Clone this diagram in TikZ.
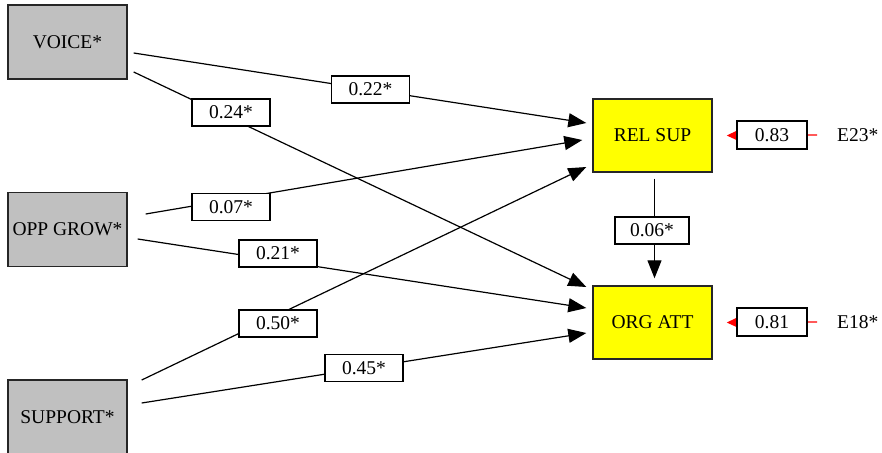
\documentclass[tikz,border=0pt]{standalone}
\usepackage{fontspec}
\setmainfont{Liberation Serif}
\usetikzlibrary{arrows.meta}
\definecolor{boxgray}{HTML}{C0C0C0}
\definecolor{boxyellow}{HTML}{FFFF00}
\begin{document}
\begin{tikzpicture}[x=1pt,y=-1pt,
  every node/.style={font=\fontsize{19.5}{22}\selectfont, inner sep=0pt},
  exo/.style={draw=black!85, line width=1.4pt, fill=boxgray, minimum width=119pt, minimum height=74pt},
  endo/.style={draw=black!85, line width=1.4pt, fill=boxyellow, minimum width=119pt, minimum height=73pt},
  coef/.style={draw=black, line width=1.1pt, fill=white, minimum width=78pt, minimum height=27pt},
  errcoef/.style={coef, minimum width=70pt, minimum height=28pt},
  path/.style={line width=1.2pt, -{Triangle[length=18pt,width=14pt]}},
  errpath/.style={red, line width=1.2pt, -{Triangle[length=10pt,width=9pt]}},
  errlabel/.style={anchor=west}
]
\useasboundingbox (0,0) rectangle (882,452);

% observed variables
\node[exo]  (voice)   at (67.5,42)    {VOICE*};
\node[exo]  (opp)     at (67.5,229.5) {OPP GROW*};
\node[exo]  (support) at (67.5,417)   {SUPPORT*};
\node[endo] (relsup)  at (652.5,135.5){REL SUP};
\node[endo] (orgatt)  at (652.5,322.5){ORG ATT};

% error terms
\node[errlabel] (e23) at (837,135) {E23*};
\node[errlabel] (e18) at (837,322) {E18*};
\coordinate (e23s) at ([xshift=-20pt]e23.west);
\coordinate (e18s) at ([xshift=-20pt]e18.west);

% structural paths
\draw[path] ([shift={(6,11)}]voice.east)   -- ([shift={(-6,-12.5)}]relsup.west);
\draw[path] ([shift={(6,30)}]voice.east)   -- ([shift={(-6,-35.5)}]orgatt.west);
\draw[path] ([shift={(18,-15.5)}]opp.east) -- ([shift={(-10,4.5)}]relsup.west);
\draw[path] ([shift={(10,9.5)}]opp.east)   -- ([shift={(-6,-14.5)}]orgatt.west);
\draw[path] ([shift={(14,-37)}]support.east) -- ([shift={(-6,31.5)}]relsup.west);
\draw[path] ([shift={(14,-14)}]support.east) -- ([shift={(-6,10.5)}]orgatt.west);
\draw[path] ([shift={(2,6)}]relsup.south) -- ([shift={(2,-7)}]orgatt.north);

% disturbance paths
\draw[errpath] (e23s) -- ([xshift=14pt]relsup.east);
\draw[errpath] (e18s) -- ([xshift=14pt]orgatt.east);

% path coefficients
\node[coef] (c1) at (370.5,89.5) {0.22*};
\node[coef] (c2) at (231,112.5)  {0.24*};
\node[coef] (c3) at (231,207)    {0.07*};
\node[coef] (c4) at (278,253.5)  {0.21*};
\node[coef] (c5) at (278,323.5)  {0.50*};
\node[coef] (c6) at (364,368)    {0.45*};
\node[coef, minimum width=74pt] (c7) at (652,230.5) {0.06*};
\node[errcoef] (c8) at (772,135) {0.83};
\node[errcoef] (c9) at (772,322) {0.81};
\end{tikzpicture}
\end{document}
